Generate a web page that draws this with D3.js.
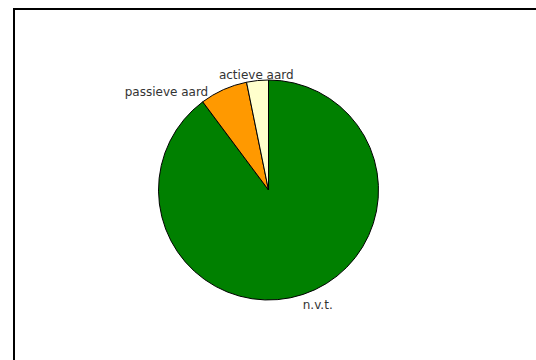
<!DOCTYPE html>
<html>
<head>
<meta charset="utf-8">
<script src="https://cdn.jsdelivr.net/npm/d3@7/dist/d3.min.js"></script>
<style>
  html, body { margin: 0; padding: 0; background: #fff; }
  svg { display: block; }
</style>
</head>
<body>
<svg id="chart" width="536" height="360"></svg>
<script>
// Data
const categories = ["n.v.t.", "passieve aard", "actieve aard"];
const values = [89.8, 7.0, 3.2];
const colors = ["#008000", "#FF9900", "#FFFFCC"];

const width = 536, height = 360;
const cx = 268.5, cy = 190, radius = 110;

const svg = d3.select("#chart");

// frame lines (top and left)
svg.append("line").attr("x1", 14).attr("y1", 8).attr("x2", 14).attr("y2", height)
  .attr("stroke", "#000").attr("stroke-width", 2);
svg.append("line").attr("x1", 13).attr("y1", 9).attr("x2", width).attr("y2", 9)
  .attr("stroke", "#000").attr("stroke-width", 2);

const data = categories.map((c, i) => ({ name: c, value: values[i], color: colors[i] }));

const pie = d3.pie().sort(null).value(d => d.value).startAngle(0).endAngle(2 * Math.PI);
const arcs = pie(data);

const arc = d3.arc().innerRadius(0).outerRadius(radius);

const g = svg.append("g").attr("transform", `translate(${cx},${cy})`);

g.selectAll("path.slice")
  .data(arcs)
  .enter().append("path")
  .attr("class", "slice")
  .attr("d", arc)
  .attr("fill", d => d.data.color)
  .attr("stroke", "#000")
  .attr("stroke-width", 1)
  .attr("stroke-linejoin", "round");

// labels
const labelRadius = 112;
const labelLayout = {
  "n.v.t.": { anchor: "start", dx: -1, dy: 12.5 },
  "passieve aard": { anchor: "end", dx: -14.5, dy: 8 },
  "actieve aard": { anchor: "middle", dx: -1, dy: 0.5 }
};

g.selectAll("text.label")
  .data(arcs)
  .enter().append("text")
  .attr("class", "label")
  .each(function(d) {
    const a = (d.startAngle + d.endAngle) / 2;
    const x = labelRadius * Math.sin(a);
    const y = -labelRadius * Math.cos(a);
    const l = labelLayout[d.data.name];
    d3.select(this)
      .attr("x", x + l.dx)
      .attr("y", y + l.dy)
      .attr("text-anchor", l.anchor);
  })
  .attr("font-family", "'DejaVu Sans', Verdana, sans-serif")
  .attr("font-size", "12px")
  .attr("fill", "#333")
  .text(d => d.data.name);
</script>
</body>
</html>
